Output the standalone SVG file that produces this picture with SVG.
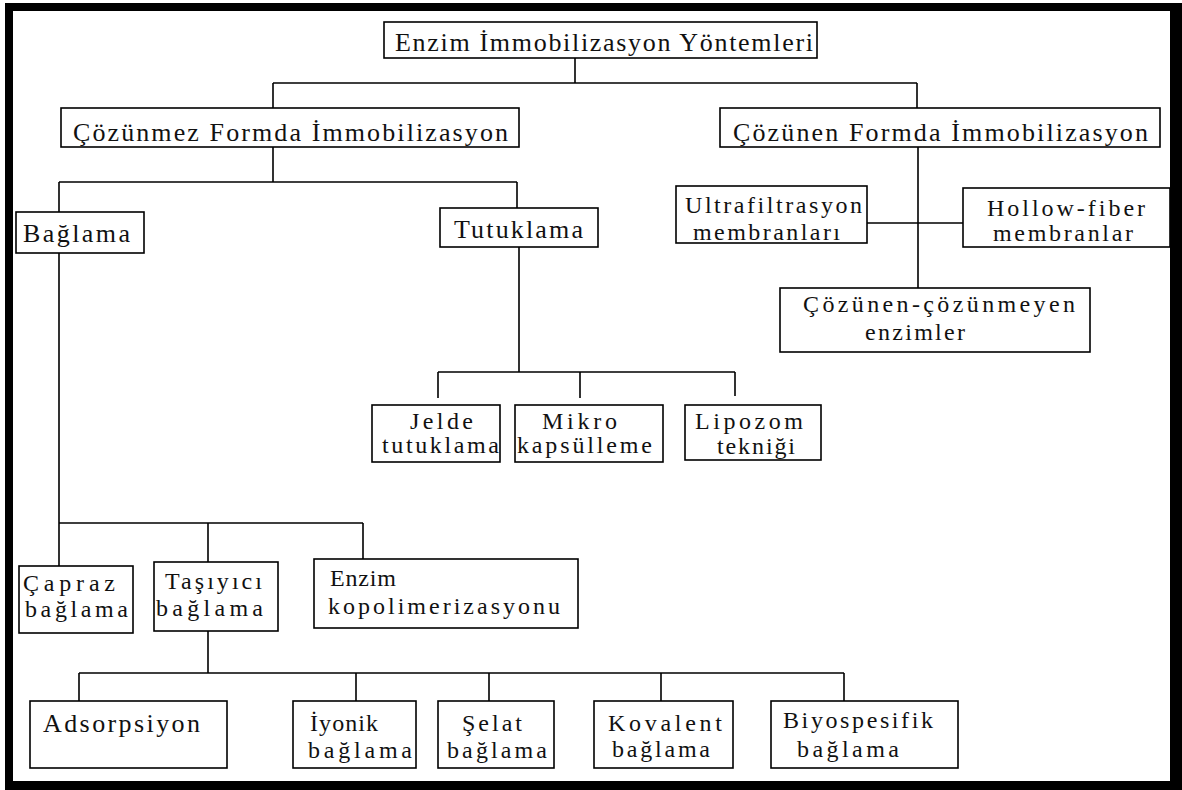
<svg xmlns="http://www.w3.org/2000/svg" width="1182" height="790" viewBox="0 0 1182 790">
<style>
.box{fill:#fff;stroke:#000;stroke-width:1.6}
.ln{fill:none;stroke:#000;stroke-width:1.6}
.t{font-family:"Liberation Serif","Times New Roman",serif;font-size:26px;fill:#111}
.s{font-family:"Liberation Serif","Times New Roman",serif;font-size:24px;fill:#111}
</style>
<rect x="0" y="0" width="1182" height="790" fill="#fff"/>
<path d="M5,3 H1182 V790 H5 Z M13,11 V781 H1170 V11 Z" fill="#000" fill-rule="evenodd"/>
<g id="connectors">
<path class="ln" d="M575,58 V83 M273,83 H917 M273,83 V108 M917,83 V108"/>
<path class="ln" d="M273,147 V182 M59,182 H517 M59,182 V212 M517,182 V208"/>
<path class="ln" d="M918,147 V288 M867,223 H963"/>
<path class="ln" d="M519,247 V372 M438,372 H735 M438,372 V398 M580,372 V398 M735,372 V396"/>
<path class="ln" d="M59,253 V523 M59,523 H363 M59,523 V566 M208,523 V562 M363,523 V559"/>
<path class="ln" d="M208,631 V673 M79,673 H844 M79,673 V701 M356,673 V701 M489,673 V701 M661,673 V701 M844,673 V701"/>
</g>
<g id="root"><rect class="box" x="384" y="22" width="433" height="36"/><text class="t" x="395" y="51" textLength="418" lengthAdjust="spacing">Enzim İmmobilizasyon Yöntemleri</text></g>
<g id="cozunmez"><rect class="box" x="61" y="108" width="458" height="39"/><text class="t" x="73" y="141" textLength="435" lengthAdjust="spacing">Çözünmez Formda İmmobilizasyon</text></g>
<g id="cozunen"><rect class="box" x="720" y="108" width="440" height="39"/><text class="t" x="733" y="141" textLength="415" lengthAdjust="spacing">Çözünen Formda İmmobilizasyon</text></g>
<g id="baglama"><rect class="box" x="16" y="212" width="128" height="41"/><text class="t" x="23" y="242" textLength="107" lengthAdjust="spacing">Bağlama</text></g>
<g id="tutuklama"><rect class="box" x="440" y="208" width="158" height="39"/><text class="t" x="454" y="238" textLength="129" lengthAdjust="spacing">Tutuklama</text></g>
<g id="ultra"><rect class="box" x="676" y="186" width="191" height="57"/><text class="s" x="685" y="213" textLength="177" lengthAdjust="spacing">Ultrafiltrasyon</text><text class="s" x="693" y="240" textLength="147" lengthAdjust="spacing">membranları</text></g>
<g id="hollow"><rect class="box" x="963" y="188" width="207" height="59"/><text class="s" x="987" y="216" textLength="158" lengthAdjust="spacing">Hollow-fiber</text><text class="s" x="993" y="241" textLength="140" lengthAdjust="spacing">membranlar</text></g>
<g id="cozunen-cozunmeyen"><rect class="box" x="780" y="288" width="310" height="64"/><text class="s" x="803" y="312" textLength="272" lengthAdjust="spacing">Çözünen-çözünmeyen</text><text class="s" x="865" y="340" textLength="100" lengthAdjust="spacing">enzimler</text></g>
<g id="jelde"><rect class="box" x="372" y="405" width="128" height="57"/><text class="s" x="410" y="429" textLength="63" lengthAdjust="spacing">Jelde</text><text class="s" x="382" y="453" textLength="117" lengthAdjust="spacing">tutuklama</text></g>
<g id="mikro"><rect class="box" x="515" y="405" width="148" height="57"/><text class="s" x="542" y="429" textLength="75" lengthAdjust="spacing">Mikro</text><text class="s" x="517" y="453" textLength="135" lengthAdjust="spacing">kapsülleme</text></g>
<g id="lipozom"><rect class="box" x="685" y="405" width="136" height="55"/><text class="s" x="695" y="429" textLength="108" lengthAdjust="spacing">Lipozom</text><text class="s" x="717" y="454" textLength="78" lengthAdjust="spacing">tekniği</text></g>
<g id="capraz"><rect class="box" x="19" y="566" width="114" height="67"/><text class="s" x="23" y="591" textLength="92" lengthAdjust="spacing">Çapraz</text><text class="s" x="25" y="617" textLength="103" lengthAdjust="spacing">bağlama</text></g>
<g id="tasiyici"><rect class="box" x="154" y="562" width="124" height="69"/><text class="s" x="165" y="589" textLength="97" lengthAdjust="spacing">Taşıyıcı</text><text class="s" x="156" y="616" textLength="107" lengthAdjust="spacing">bağlama</text></g>
<g id="kopolimerizasyon"><rect class="box" x="314" y="559" width="264" height="69"/><text class="s" x="330" y="586" textLength="66" lengthAdjust="spacing">Enzim</text><text class="s" x="328" y="614" textLength="232" lengthAdjust="spacing">kopolimerizasyonu</text></g>
<g id="adsorpsiyon"><rect class="box" x="30" y="701" width="197" height="67"/><text class="t" x="43" y="732" textLength="157" lengthAdjust="spacing">Adsorpsiyon</text></g>
<g id="iyonik"><rect class="box" x="293" y="701" width="123" height="67"/><text class="s" x="310" y="731" textLength="68" lengthAdjust="spacing">İyonik</text><text class="s" x="308" y="758" textLength="104" lengthAdjust="spacing">bağlama</text></g>
<g id="selat"><rect class="box" x="438" y="701" width="116" height="67"/><text class="s" x="462" y="731" textLength="60" lengthAdjust="spacing">Şelat</text><text class="s" x="447" y="758" textLength="100" lengthAdjust="spacing">bağlama</text></g>
<g id="kovalent"><rect class="box" x="594" y="701" width="139" height="67"/><text class="s" x="608" y="731" textLength="114" lengthAdjust="spacing">Kovalent</text><text class="s" x="612" y="757" textLength="98" lengthAdjust="spacing">bağlama</text></g>
<g id="biyospesifik"><rect class="box" x="771" y="701" width="187" height="67"/><text class="s" x="783" y="728" textLength="150" lengthAdjust="spacing">Biyospesifik</text><text class="s" x="797" y="757" textLength="102" lengthAdjust="spacing">bağlama</text></g>
</svg>
